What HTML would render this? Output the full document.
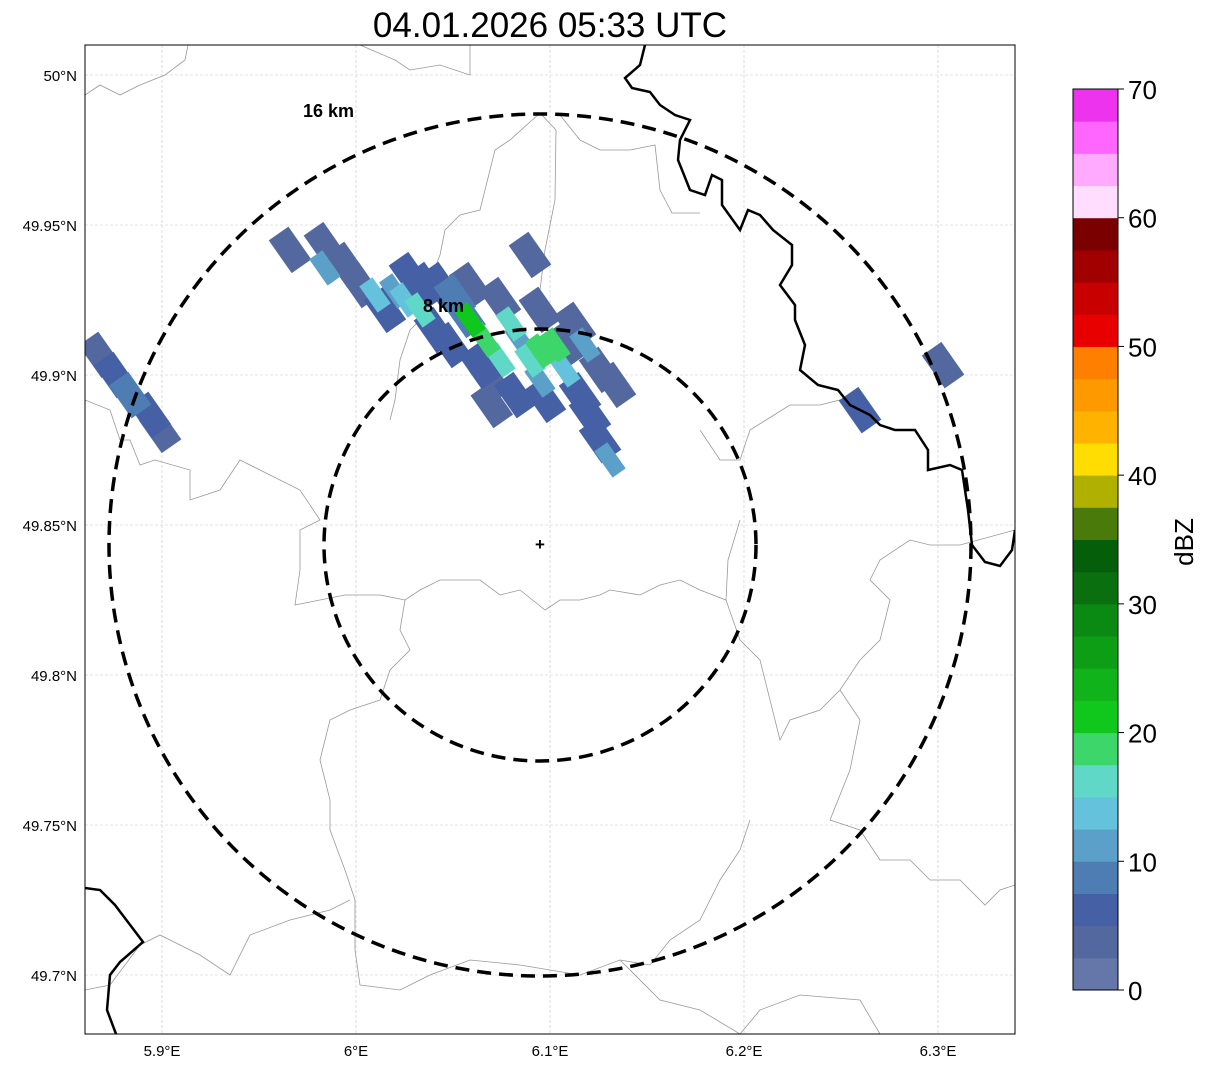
<!DOCTYPE html>
<html><head><meta charset="utf-8"><style>
body{margin:0;background:#fff;width:1207px;height:1069px;overflow:hidden;font-family:"Liberation Sans","DejaVu Sans",sans-serif}
</style></head><body>
<svg id="chart" width="1207" height="1069" xmlns="http://www.w3.org/2000/svg">
<text x="550" y="37" font-size="35" text-anchor="middle" fill="#000">04.01.2026 05:33 UTC</text>
<clipPath id="clip"><rect x="85" y="45" width="930" height="989"/></clipPath>
<g id="grid"></g>
<g clip-path="url(#clip)">
<g fill="none" stroke="#999" stroke-width="0.8">
<polyline points="85,95 100,85 120,95 140,85 165,75 185,60 188,45"/>
<polyline points="360,45 395,60 410,70 440,65 470,75 470,45"/>
<polyline points="540,113 510,140 495,150 480,210 460,215 445,230 440,255 430,280 430,310 410,330 400,360 395,400 390,420"/>
<polyline points="540,113 556,130 555,200 545,250 540,290 530,305"/>
<polyline points="560,115 580,140 600,150 630,150 655,145 660,190 672,213 700,213"/>
<polyline points="85,400 110,410 120,440 130,440 140,465 155,460 190,470 190,500 220,490 240,460 260,470 300,490 320,520 300,530 300,570 295,605 320,600 345,595 380,595 405,600 420,590 440,580 480,580 500,595 520,590 545,610 560,600 580,600 600,595 610,590 640,595 660,585 680,580 700,590 726,600 728,560 740,520"/>
<polyline points="405,600 400,630 410,650 390,670 380,700 350,710 330,720 320,760 330,800 330,830 345,870 355,900 355,950 360,985 400,990 430,975 470,960 520,965 580,975 620,960 650,965 670,940 700,920 720,880 740,850 750,820"/>
<polyline points="700,430 720,460 740,460 750,430 790,405 820,405 840,400 860,420"/>
<polyline points="1015,530 960,545 930,545 910,540 880,560 870,580 890,600 880,640 860,660 840,690 820,710 790,720 780,740 760,660 740,640 726,600"/>
<polyline points="840,690 860,720 850,770 830,820 860,830 880,860 910,860 930,880 960,880 985,905 1000,890 1015,885"/>
<polyline points="85,990 110,985 140,945 160,935 200,955 230,975 250,935 290,920 330,910 350,900"/>
<polyline points="740,1034 760,1010 800,995 860,1000 880,1034"/>
<polyline points="620,960 660,1000 700,1010 740,1034"/>
</g>
<g id="echoes"></g>
<g fill="none" stroke="#000" stroke-width="2.5">
<polyline points="645,45 640,65 625,78 632,88 650,92 660,105 675,115 690,120 680,140 678,160 690,190 705,195 712,175 722,180 722,205 740,230 748,210 760,215 773,230 792,245 792,265 780,285 795,305 795,320 805,345 800,370 818,385 838,390 850,405 870,415 880,425 895,430 915,430 928,450 928,470 950,465 962,470 968,510 972,545 985,562 1000,566 1012,550 1015,530"/>
<polyline points="85,888 100,890 115,905 143,942 120,962 110,975 107,1010 116,1034"/>
</g>
<g fill="none" stroke="#000" stroke-width="3.5" stroke-dasharray="14,8">
<circle cx="540" cy="545" r="216"/>
<circle cx="540" cy="545" r="431"/>
</g>
<text x="540" y="550" font-size="17" font-weight="bold" text-anchor="middle">+</text>
<text x="303" y="117" font-size="18" font-weight="bold">16 km</text>
<text x="423" y="312" font-size="18" font-weight="bold">8 km</text>
</g>
<rect x="85" y="45" width="930" height="989" fill="none" stroke="#000" stroke-width="1"/>
<g id="ticks" font-size="15" fill="#000"></g>
<g id="cbar"></g>
<text transform="translate(1193,542) rotate(-90)" font-size="26" text-anchor="middle">dBZ</text>
</svg>
<script>
const lonTicks=[5.9,6.0,6.1,6.2,6.3];
const lonLabels=["5.9°E","6°E","6.1°E","6.2°E","6.3°E"];
const latTicks=[50.0,49.95,49.9,49.85,49.8,49.75,49.7];
const latLabels=["50°N","49.95°N","49.9°N","49.85°N","49.8°N","49.75°N","49.7°N"];
const cellLon=[5.966,5.984,5.9948,5.984,6.0021,6.0098,6.0149,6.0278,6.0253,6.033,6.0433,6.0407,6.0485,6.0588,6.0742,6.0588,6.0665,6.0742,6.0691,6.082,6.0845,6.0897,6.0948,6.0974,6.1026,6.1077,6.1155,6.1258,6.1335,6.1206,6.1258,6.1309,6.0897,6.0948,6.1077,5.868,5.8758,5.8835,5.8938,5.899,6.2598,6.3026,6.1129,6.0510,6.0640,6.0800,6.0950,6.1180,6.0360,6.0200,6.0700,6.0560];
const cellLat=[49.9417,49.9433,49.9367,49.9357,49.930,49.9267,49.9217,49.9333,49.925,49.9217,49.93,49.915,49.91,49.93,49.925,49.9183,49.9117,49.905,49.8983,49.8933,49.9117,49.905,49.8983,49.8917,49.91,49.9017,49.8933,49.9017,49.8967,49.8867,49.8783,49.8717,49.94,49.9217,49.91,49.9067,49.9,49.8933,49.8867,49.8817,49.8883,49.9033,49.9167,49.9260,49.9030,49.9170,49.9080,49.9100,49.9300,49.9280,49.8900,49.9200];
const cellDbz=[3,4,4,12,4,13,5,5,14,16,5,6,5,4,3,21,19,17,4,5,12,15,10,5,18,14,6,4,3,5,7,12,4,4,3,4,6,8,7,4,7,4,3,8,5,16,18,12,7,11,4,9];
const cbarColors=["#6577a8","#5468a0","#4560a5","#4d7db3","#5aa0c8","#65c2dc","#60d8c8","#3dd66a","#10c81c","#10b41a","#0d9e16","#0b8a13","#0a700f","#055e0a","#4a7a0a","#b0b000","#ffdd00","#ffb300","#ff9900","#ff7f00","#e80000","#c80000","#a00000","#7a0000","#ffddff","#ffaaff","#ff66ff","#ee33ee"];
const cbarTicks=[0,10,20,30,40,50,60,70];

const NS="http://www.w3.org/2000/svg";
const X=lon=>356+(lon-6.0)*1940;
const Y=lat=>75+(50.0-lat)*3000;
const CB=v=>990-(v/70)*901;
function mk(t,a,p){const e=document.createElementNS(NS,t);for(const k in a)e.setAttribute(k,a[k]);p.appendChild(e);return e;}
const grid=document.getElementById('grid'),ticks=document.getElementById('ticks');
lonTicks.forEach((v,i)=>{
 const g=mk('line',{x1:X(v),x2:X(v),y1:45,y2:1034,stroke:'#c8c8c8','stroke-width':0.6,'stroke-dasharray':'3,2'},grid);
 
 
 const t=mk('text',{x:X(v),y:1056,'text-anchor':'middle'},ticks);t.textContent=lonLabels[i];
 
 
});
latTicks.forEach((v,i)=>{
 const g=mk('line',{x1:85,x2:1015,y1:Y(v),y2:Y(v),stroke:'#c8c8c8','stroke-width':0.6,'stroke-dasharray':'3,2'},grid);
 
 
 const t=mk('text',{x:77,y:Y(v)+6,'text-anchor':'end'},ticks);t.textContent=latLabels[i];
 
 
});
const colorFor=v=>cbarColors[Math.max(0,Math.min(27,Math.floor(v/2.5)))];
const ech=document.getElementById('echoes');
const order=cellDbz.map((v,i)=>i).sort((a,b)=>cellDbz[a]-cellDbz[b]);
order.forEach(i=>{
 const cx=X(cellLon[i]),cy=Y(cellLat[i]);
 const big=cellDbz[i]<10;
 const w=big?24:16,h=big?40:32;
 const r=mk('rect',{x:cx-w/2,y:cy-h/2,width:w,height:h,fill:colorFor(cellDbz[i]),transform:`rotate(-35 ${cx} ${cy})`},ech);
 
 
});
const cb=document.getElementById('cbar');
cbarColors.forEach((c,i)=>{
 const r=mk('rect',{x:1073,y:CB((i+1)*2.5),width:45,height:CB(i*2.5)-CB((i+1)*2.5)+0.5,fill:c},cb);
 
 
});
const fr=mk('rect',{x:1073,y:89,width:45,height:901,fill:'none',stroke:'#000','stroke-width':1},cb);


cbarTicks.forEach(v=>{
 const l=mk('line',{x1:1118,x2:1124,y1:CB(v),y2:CB(v),stroke:'#000'},cb);
 
 
 const t=mk('text',{x:1128,y:CB(v)+10,'font-size':26},cb);t.textContent=v;
 
 
});
</script>
</body></html>
